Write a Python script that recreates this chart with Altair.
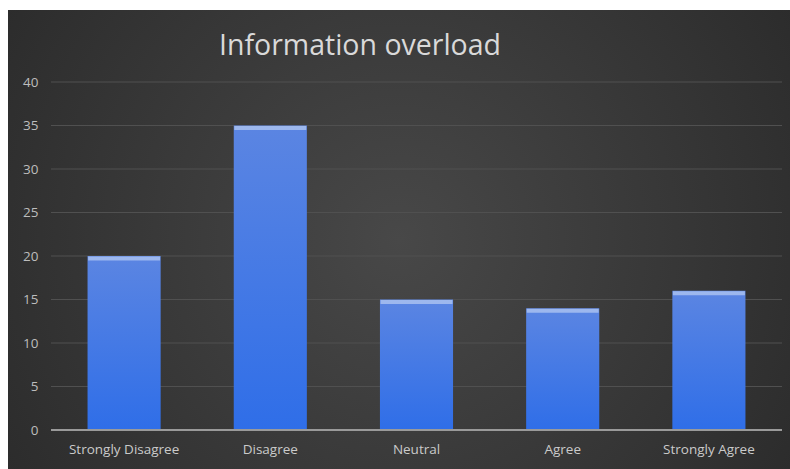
import altair as alt
import pandas as pd

categories = ["Strongly Disagree", "Disagree", "Neutral", "Agree", "Strongly Agree"]
values = [20, 35, 15, 14, 16]
y_ticks = [0, 5, 10, 15, 20, 25, 30, 35, 40]
title_text = "Information overload"

df = pd.DataFrame({"category": categories, "value": values})
grid_df = pd.DataFrame({"tick": y_ticks[1:]})

W, H = 731, 348
PAD_L, PAD_T, PAD_R, PAD_B = 51, 82, 8, 39

x_scale = alt.Scale(paddingInner=0.5, paddingOuter=0.25)
y_scale = alt.Scale(domain=[0, 40], nice=False)

x_axis = alt.Axis(title=None, labelAngle=0, labelColor="#cacaca",
                  labelFont="Open Sans", labelFontSize=13.5,
                  labelPadding=12, ticks=False, domain=False, grid=False, zindex=1)
y_axis = alt.Axis(title=None, values=y_ticks,
                  labelColor="#bdbdbd", labelFont="Open Sans", labelFontSize=13.5,
                  labelPadding=13, ticks=False, domain=False, grid=False, zindex=1)

x_enc = alt.X("category:N", sort=categories, scale=x_scale, axis=x_axis)
y_enc = alt.Y("value:Q", scale=y_scale, axis=y_axis)

bg = alt.Chart(df).mark_rect(
    color=alt.RadialGradient(
        gradient="radial", x1=0.5, y1=0.5, r1=0, x2=0.5, y2=0.5, r2=0.75,
        stops=[alt.GradientStop(offset=0, color="#484848"),
               alt.GradientStop(offset=1, color="#242424")]),
    clip=False
).encode(
    x=alt.value(8 - PAD_L), x2=alt.value(790 - PAD_L),
    y=alt.value(10 - PAD_T), y2=alt.value(469 - PAD_T)
)

grid = alt.Chart(grid_df).mark_rule(color="#505050", strokeWidth=1).encode(
    y=alt.Y("tick:Q", scale=y_scale, axis=y_axis), x=alt.value(0), x2=alt.value(W)
)

bars = alt.Chart(df).mark_bar(
    color=alt.LinearGradient(
        gradient="linear", x1=0, y1=0, x2=0, y2=1,
        stops=[alt.GradientStop(offset=0, color="#5b85e2"),
               alt.GradientStop(offset=1, color="#2f6ee8")])
).encode(x=x_enc, y=y_enc)

caps = alt.Chart(df).mark_tick(color="#b9cdf3", thickness=4, yOffset=2.5).encode(
    x=x_enc, y=y_enc, size=alt.value(72)
)

baseline = alt.Chart(df).mark_rule(color="#9a9a9a", strokeWidth=2).encode(
    y=alt.datum(0, scale=y_scale, axis=y_axis), x=alt.value(0), x2=alt.value(W)
)

title = alt.Chart(pd.DataFrame({"t": [title_text]})).mark_text(
    font="Open Sans", fontSize=28.5, color="#d9d9d9", align="center", baseline="alphabetic"
).encode(text="t:N", x=alt.value(360 - PAD_L), y=alt.value(55 - PAD_T))

chart = alt.layer(bg, grid, bars, caps, baseline, title).properties(
    width=W, height=H,
    padding={"left": PAD_L, "top": PAD_T, "right": PAD_R, "bottom": PAD_B},
    autosize=alt.AutoSizeParams(type="none"),
    background="white"
).configure_view(stroke=None)

chart.save("out.html", embed_options={"renderer": "svg", "actions": False})
